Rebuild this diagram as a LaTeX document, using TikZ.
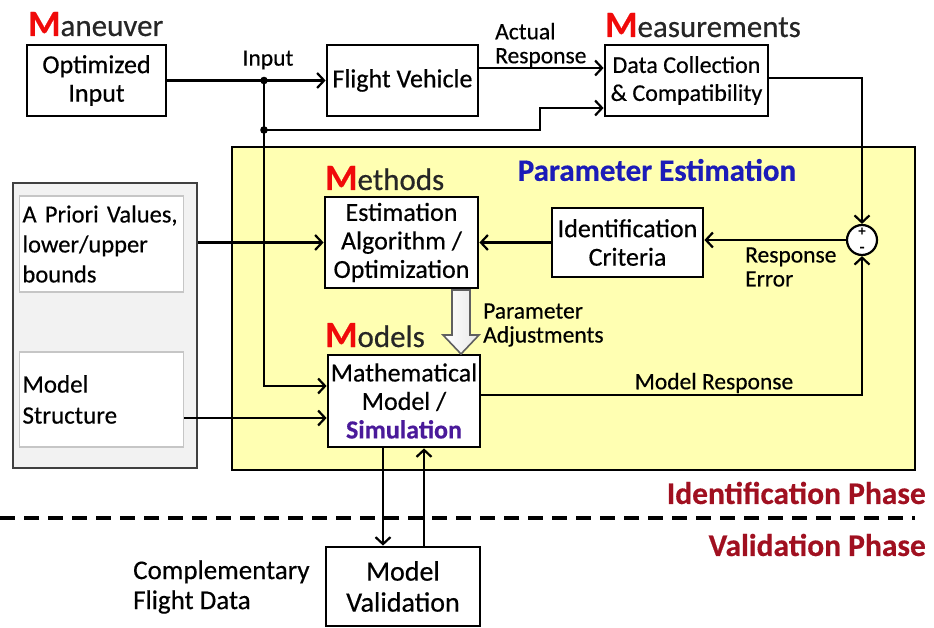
\documentclass[tikz,border=0pt]{standalone}
\usepackage{fontspec}
\setmainfont{Carlito}[FakeBold=0.45]
\usetikzlibrary{arrows.meta,calc}
\definecolor{yel}{HTML}{FFFFB2}
\definecolor{titred}{HTML}{F00A0A}
\definecolor{peblue}{HTML}{1C1CB8}
\definecolor{simpurple}{HTML}{4A1A9A}
\definecolor{phred}{HTML}{A01020}
\definecolor{panelgray}{HTML}{F2F2F2}
\newcommand\myfs[2]{\fontsize{#1}{#2}\selectfont}
\newcommand\bigM[1]{{\color{titred}\bfseries\myfs{37}{37}#1}}
\begin{document}
\begin{tikzpicture}[x=1pt,y=-1pt,
  box/.style={draw, line width=2.8pt, fill=white, align=center, inner sep=1pt, font=\myfs{26}{28.5}},
  inbox/.style={draw=gray!45, line width=1.5pt, fill=white, align=left, inner xsep=3pt, inner ysep=2pt, text width=158pt, font=\myfs{24.5}{30}},
  conn/.style={line width=2.2pt},
  arr/.style={conn, -{Straight Barb[length=7pt,width=15pt]}},
  lab/.style={inner sep=0pt, align=left, font=\myfs{23.5}{24}},
  title/.style={anchor=base west, inner sep=0pt, font=\myfs{31}{33}, text=black!85},
  phase/.style={anchor=east, inner sep=0pt, text=phred, font=\bfseries\myfs{31.5}{32}}]
\useasboundingbox (0,0) rectangle (934,628);

% background regions
\node[draw, line width=1.6pt, fill=yel, minimum width=683pt, minimum height=323pt, inner sep=0] (pe) at (573.5,308.5) {};
\node[draw=black!75, line width=2pt, fill=panelgray, minimum width=184pt, minimum height=285pt, inner sep=0] (panel) at (105,325.5) {};

% dashed phase separator
\draw[line width=3.2pt, dash pattern=on 15pt off 9pt] (0,518) -- (915,518);

% boxes
\node[box, minimum width=139pt, minimum height=71pt] (opt) at (96.5,80.5) {Optimized\\Input};
\node[box, minimum width=151pt, minimum height=71pt] (fv) at (402.5,80.5) {Flight Vehicle};
\node[box, minimum width=163pt, minimum height=71pt, font=\myfs{24}{28}] (dc) at (686.5,80.5) {Data Collection\\\& Compatibility};
\node[box, minimum width=153pt, minimum height=91pt] (est) at (401.5,242.5) {Estimation\\Algorithm /\\Optimization};
\node[box, minimum width=151pt, minimum height=69pt] (idc) at (627.5,242.5) {Identification\\Criteria};
\node[box, minimum width=152pt, minimum height=92pt] (math) at (404,401) {Mathematical\\Model /\\{\bfseries\color{simpurple}Simulation}};
\node[box, minimum width=154pt, minimum height=79pt, font=\myfs{28}{31}] (mv) at (403,586.5) {Model\\Validation};
\node[inbox, minimum height=96pt] (apr) at (101.5,244) {A Priori Values,\\lower/upper\\bounds};
\node[inbox, minimum height=95pt, font=\myfs{25}{31}] (ms) at (101.5,399.5) {Model\\Structure};
\node[draw, circle, line width=2.2pt, minimum size=30pt, inner sep=0pt, fill=white] (sum) at (862,240) {};
\node[inner sep=0pt, font=\bfseries\myfs{14}{14}] (plus) at (862,231.5) {+};
\node[inner sep=0pt, font=\bfseries\myfs{16}{16}] (minus) at (862,249.5) {-};

% titles
\node[title] (tman) at (28,36) {\bigM{M}aneuver};
\node[title] (tmeas) at (605,37) {\bigM{M}easurements};
\node[title] (tmeth) at (325,190) {\bigM{M}ethods};
\node[title] (tmod) at (325,347) {\bigM{M}odels};
\node[inner sep=0pt, text=peblue, font=\bfseries\myfs{31}{31}] (tpe) at (657,170) {Parameter Estimation};
\node[phase] (idp) at (926,493) {Identification Phase};
\node[phase] (vap) at (926,545) {Validation Phase};

% labels
\node[lab, anchor=center] (linput) at (268,60) {Input};
\node[lab, anchor=west] (lar) at (495,45) {Actual\\Response};
\node[lab, anchor=west] (lre) at (745,267) {Response\\Error};
\node[lab, anchor=west] (lpa) at (483,325) {Parameter\\Adjustments};
\node[lab, anchor=center] (lmr) at (714,383) {Model Response};
\node[lab, anchor=west, font=\myfs{27}{30}] (lcfd) at (133,587) {Complementary\\Flight Data};

% coordinates
\coordinate (j1) at (264,80.5);
\coordinate (j2) at (264,130);
\coordinate (mi) at (264,386);
\coordinate (s1) at (540,130);
\coordinate (s2) at (540,108);
\coordinate (ar) at (478,68);
\coordinate (d1) at (862,78);
\coordinate (m2) at (183,418);
\coordinate (r1) at (862,395);
\coordinate (v1) at (383,0);
\coordinate (v2) at (424,0);

% connectors
\draw[arr] (opt.east) -- (fv.west);
\draw[arr] (j1) -- (mi) -- (mi -| math.west);
\draw[arr] (j2) -- (s1) -- (s2) -- (s2 -| dc.west);
\fill (j1) circle (3.8pt);
\fill (j2) circle (3.8pt);
\draw[arr] (ar -| fv.east) -- (ar -| dc.west);
\draw[arr] (d1 -| dc.east) -- (d1) -- (sum.north);
\draw[arr] (sum.west) -- (sum.west -| idc.east);
\draw[arr] (idc.west) -- (idc.west -| est.east);
\draw[arr] (panel.east |- est.west) -- (est.west);
\draw[arr] (m2 -| ms.east) -- (m2 -| math.west);
\draw[arr] (r1 -| math.east) -- (r1) -- (sum.south);
\draw[arr] (v1 |- math.south) -- (v1 |- mv.north);
\draw[arr] (v2 |- mv.north) -- (v2 |- math.south);

% hollow parameter-adjustment arrow
\path[draw=gray!75!black, line width=1.6pt, left color=white, right color=gray!18]
  (452,290) -- (452,335) -- (443,335) -- (461,354) -- (479,335) -- (470,335) -- (470,290) -- cycle;
\end{tikzpicture}
\end{document}
